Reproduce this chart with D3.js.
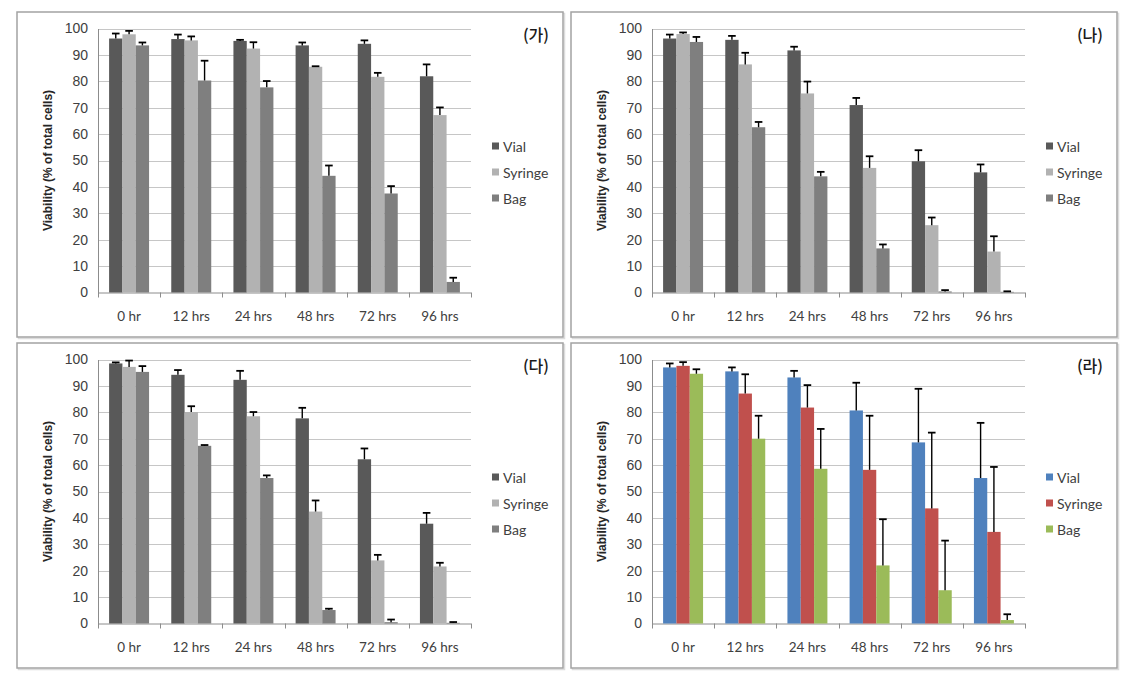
<!DOCTYPE html>
<html><head><meta charset="utf-8">
<script src="https://cdn.jsdelivr.net/npm/d3@7"></script>
<style>body{margin:0;background:#fff;}svg{display:block;}</style>
</head><body>
<script>
const categories = ["0 hr","12 hrs","24 hrs","48 hrs","72 hrs","96 hrs"];
const seriesNames = ["Vial","Syringe","Bag"];
const yTicks = [0,10,20,30,40,50,60,70,80,90,100];
const panelTitles = ["(가)","(나)","(다)","(라)"];

// Panel (가)
const gaVial = [96.2, 96.0, 95.3, 93.6, 94.2, 81.9];
const gaVialErr = [1.9, 1.7, 0.4, 1.1, 1.3, 4.5];
const gaSyringe = [97.8, 95.5, 92.4, 85.5, 81.7, 67.2];
const gaSyringeErr = [1.3, 1.5, 2.4, 0.2, 1.5, 2.9];
const gaBag = [93.6, 80.3, 77.7, 44.2, 37.5, 4.0];
const gaBagErr = [1.1, 7.5, 2.4, 3.9, 2.8, 1.6];
// Panel (나)
const naVial = [96.2, 95.7, 91.7, 71.0, 49.7, 45.5];
const naVialErr = [1.5, 1.5, 1.4, 2.7, 4.2, 3.0];
const naSyringe = [97.9, 86.4, 75.4, 47.2, 25.5, 15.5];
const naSyringeErr = [0.6, 4.4, 4.5, 4.4, 2.9, 5.8];
const naBag = [94.9, 62.6, 44.0, 16.7, 0.4, 0.25];
const naBagErr = [1.9, 2.0, 1.7, 1.5, 0.5, 0.2];
// Panel (다)
const daVial = [98.5, 94.2, 92.3, 77.7, 62.2, 37.8];
const daVialErr = [0.4, 1.8, 3.4, 4.0, 4.1, 4.1];
const daSyringe = [97.2, 80.1, 78.5, 42.4, 23.9, 21.6];
const daSyringeErr = [2.4, 2.2, 1.6, 4.2, 2.1, 1.4];
const daBag = [95.3, 67.3, 55.1, 5.1, 0.5, 0.25];
const daBagErr = [2.2, 0.3, 1.0, 0.5, 1.0, 0.3];
// Panel (라)
const raVial = [97.0, 95.5, 93.2, 80.7, 68.6, 55.1];
const raVialErr = [1.5, 1.5, 2.5, 10.5, 20.3, 20.9];
const raSyringe = [97.6, 87.1, 81.8, 58.2, 43.6, 34.7];
const raSyringeErr = [1.4, 7.3, 8.5, 20.5, 28.7, 24.6];
const raBag = [94.6, 70.0, 58.6, 22.0, 12.6, 1.3];
const raBagErr = [1.7, 8.7, 15.1, 17.5, 18.8, 2.2];

const grayColors = ["#595959", "#b2b2b2", "#7f7f7f"];
const colorColors = ["#4f81bd", "#c0504d", "#9bbb59"];

const panels = [
  {x:17, y:12, title:panelTitles[0], colors:grayColors, values:[gaVial,gaSyringe,gaBag], errs:[gaVialErr,gaSyringeErr,gaBagErr]},
  {x:571, y:12, title:panelTitles[1], colors:grayColors, values:[naVial,naSyringe,naBag], errs:[naVialErr,naSyringeErr,naBagErr]},
  {x:17, y:343, title:panelTitles[2], colors:grayColors, values:[daVial,daSyringe,daBag], errs:[daVialErr,daSyringeErr,daBagErr]},
  {x:571, y:343, title:panelTitles[3], colors:colorColors, values:[raVial,raSyringe,raBag], errs:[raVialErr,raSyringeErr,raBagErr]}
];

const W = 1132, H = 686;
const svg = d3.select("body").append("svg").attr("width", W).attr("height", H);
const FONT = "'Liberation Sans', Arial, sans-serif";
const FONT2 = "Lato, 'Open Sans', sans-serif";

const PW = 546, PH = 325;
const L = 81, R = 454, TOP = 16.5, ZERO = 280.5;

panels.forEach(p => {
  const g = svg.append("g").attr("transform", `translate(${p.x},${p.y})`);
  g.append("rect").attr("x", 1.5).attr("y", 1.5).attr("width", PW).attr("height", PH)
    .attr("fill", "none").attr("stroke", "#dcdcdc").attr("stroke-width", 1.5);
  g.append("rect").attr("x", 0).attr("y", 0).attr("width", PW).attr("height", PH)
    .attr("fill", "#fff").attr("stroke", "#a3a3a3").attr("stroke-width", 1.5);

  const y = d3.scaleLinear().domain([0, 100]).range([ZERO, TOP]);
  const x0 = d3.scaleBand().domain(categories).range([L, R]).paddingInner(0.357).paddingOuter(0.1785);
  const x1 = d3.scaleBand().domain(seriesNames).range([0, x0.bandwidth()]);
  const step = x0.step();

  g.append("g").selectAll("line").data(yTicks.filter(t => t > 0)).join("line")
    .attr("x1", L).attr("x2", R).attr("y1", d => Math.round(y(d)) + 0.5).attr("y2", d => Math.round(y(d)) + 0.5)
    .attr("stroke", "#c6c6c6").attr("stroke-width", 1);

  const yAxis = d3.axisLeft(y).tickValues(yTicks).tickSize(0).tickPadding(10);
  const ya = g.append("g").attr("transform", `translate(${L},0)`).call(yAxis);
  ya.select(".domain").attr("stroke", "#8c8c8c");
  ya.selectAll("text").attr("font-family", FONT).attr("font-size", 14).attr("fill", "#404040");

  const xa = g.append("g").attr("transform", `translate(0,${ZERO})`);
  xa.append("line").attr("x1", L).attr("x2", R).attr("y1", 0.5).attr("y2", 0.5).attr("stroke", "#8c8c8c");
  xa.selectAll("line.tk").data(d3.range(categories.length + 1)).join("line").attr("class", "tk")
    .attr("x1", i => Math.round(L + i * step) + 0.5).attr("x2", i => Math.round(L + i * step) + 0.5)
    .attr("y1", 0).attr("y2", 5).attr("stroke", "#8c8c8c");
  xa.selectAll("text").data(categories).join("text")
    .attr("x", d => x0(d) + x0.bandwidth() / 2).attr("y", 28.5)
    .attr("text-anchor", "middle").attr("font-family", FONT2).attr("font-size", 13.5).attr("fill", "#404040")
    .text(d => d);

  const rows = [];
  seriesNames.forEach((s, si) => categories.forEach((c, ci) => rows.push({s, si, c, v: p.values[si][ci], e: p.errs[si][ci]})));
  g.append("g").selectAll("rect").data(rows).join("rect")
    .attr("x", d => x0(d.c) + x1(d.s)).attr("width", x1.bandwidth())
    .attr("y", d => y(d.v)).attr("height", d => ZERO - y(d.v))
    .attr("fill", d => p.colors[d.si]);

  const eg = g.append("g").attr("stroke", "#000").attr("stroke-width", 1.4);
  eg.selectAll("line.v").data(rows).join("line").attr("class", "v")
    .attr("x1", d => x0(d.c) + x1(d.s) + x1.bandwidth() / 2).attr("x2", d => x0(d.c) + x1(d.s) + x1.bandwidth() / 2)
    .attr("y1", d => y(d.v)).attr("y2", d => y(d.v + d.e));
  eg.selectAll("line.c").data(rows).join("line").attr("class", "c")
    .attr("x1", d => x0(d.c) + x1(d.s) + x1.bandwidth() / 2 - 3.8).attr("x2", d => x0(d.c) + x1(d.s) + x1.bandwidth() / 2 + 3.8)
    .attr("y1", d => y(d.v + d.e)).attr("y2", d => y(d.v + d.e)).attr("stroke-width", 1.8);

  g.append("text").attr("transform", `translate(31,${(TOP + ZERO) / 2}) rotate(-90)`)
    .attr("text-anchor", "middle").attr("dominant-baseline", "central")
    .attr("font-family", FONT).attr("font-size", 12).attr("font-weight", "bold").attr("fill", "#262626")
    .text("Viability (% of total cells)");

  const lg = g.append("g");
  seriesNames.forEach((s, i) => {
    const cy = 134 + i * 26;
    lg.append("rect").attr("x", 475).attr("y", cy - 3.5).attr("width", 7).attr("height", 7).attr("fill", p.colors[i]);
    lg.append("text").attr("x", 486).attr("y", cy).attr("dominant-baseline", "central")
      .attr("font-family", FONT2).attr("font-size", 14).attr("fill", "#404040").text(s);
  });

  g.append("text").attr("x", 532).attr("y", 29).attr("text-anchor", "end")
    .attr("font-family", "'Noto Sans CJK KR', sans-serif").attr("font-size", 16).attr("font-weight", "500")
    .attr("fill", "#1a1a1a").text(p.title);
});
</script>
</body></html>
